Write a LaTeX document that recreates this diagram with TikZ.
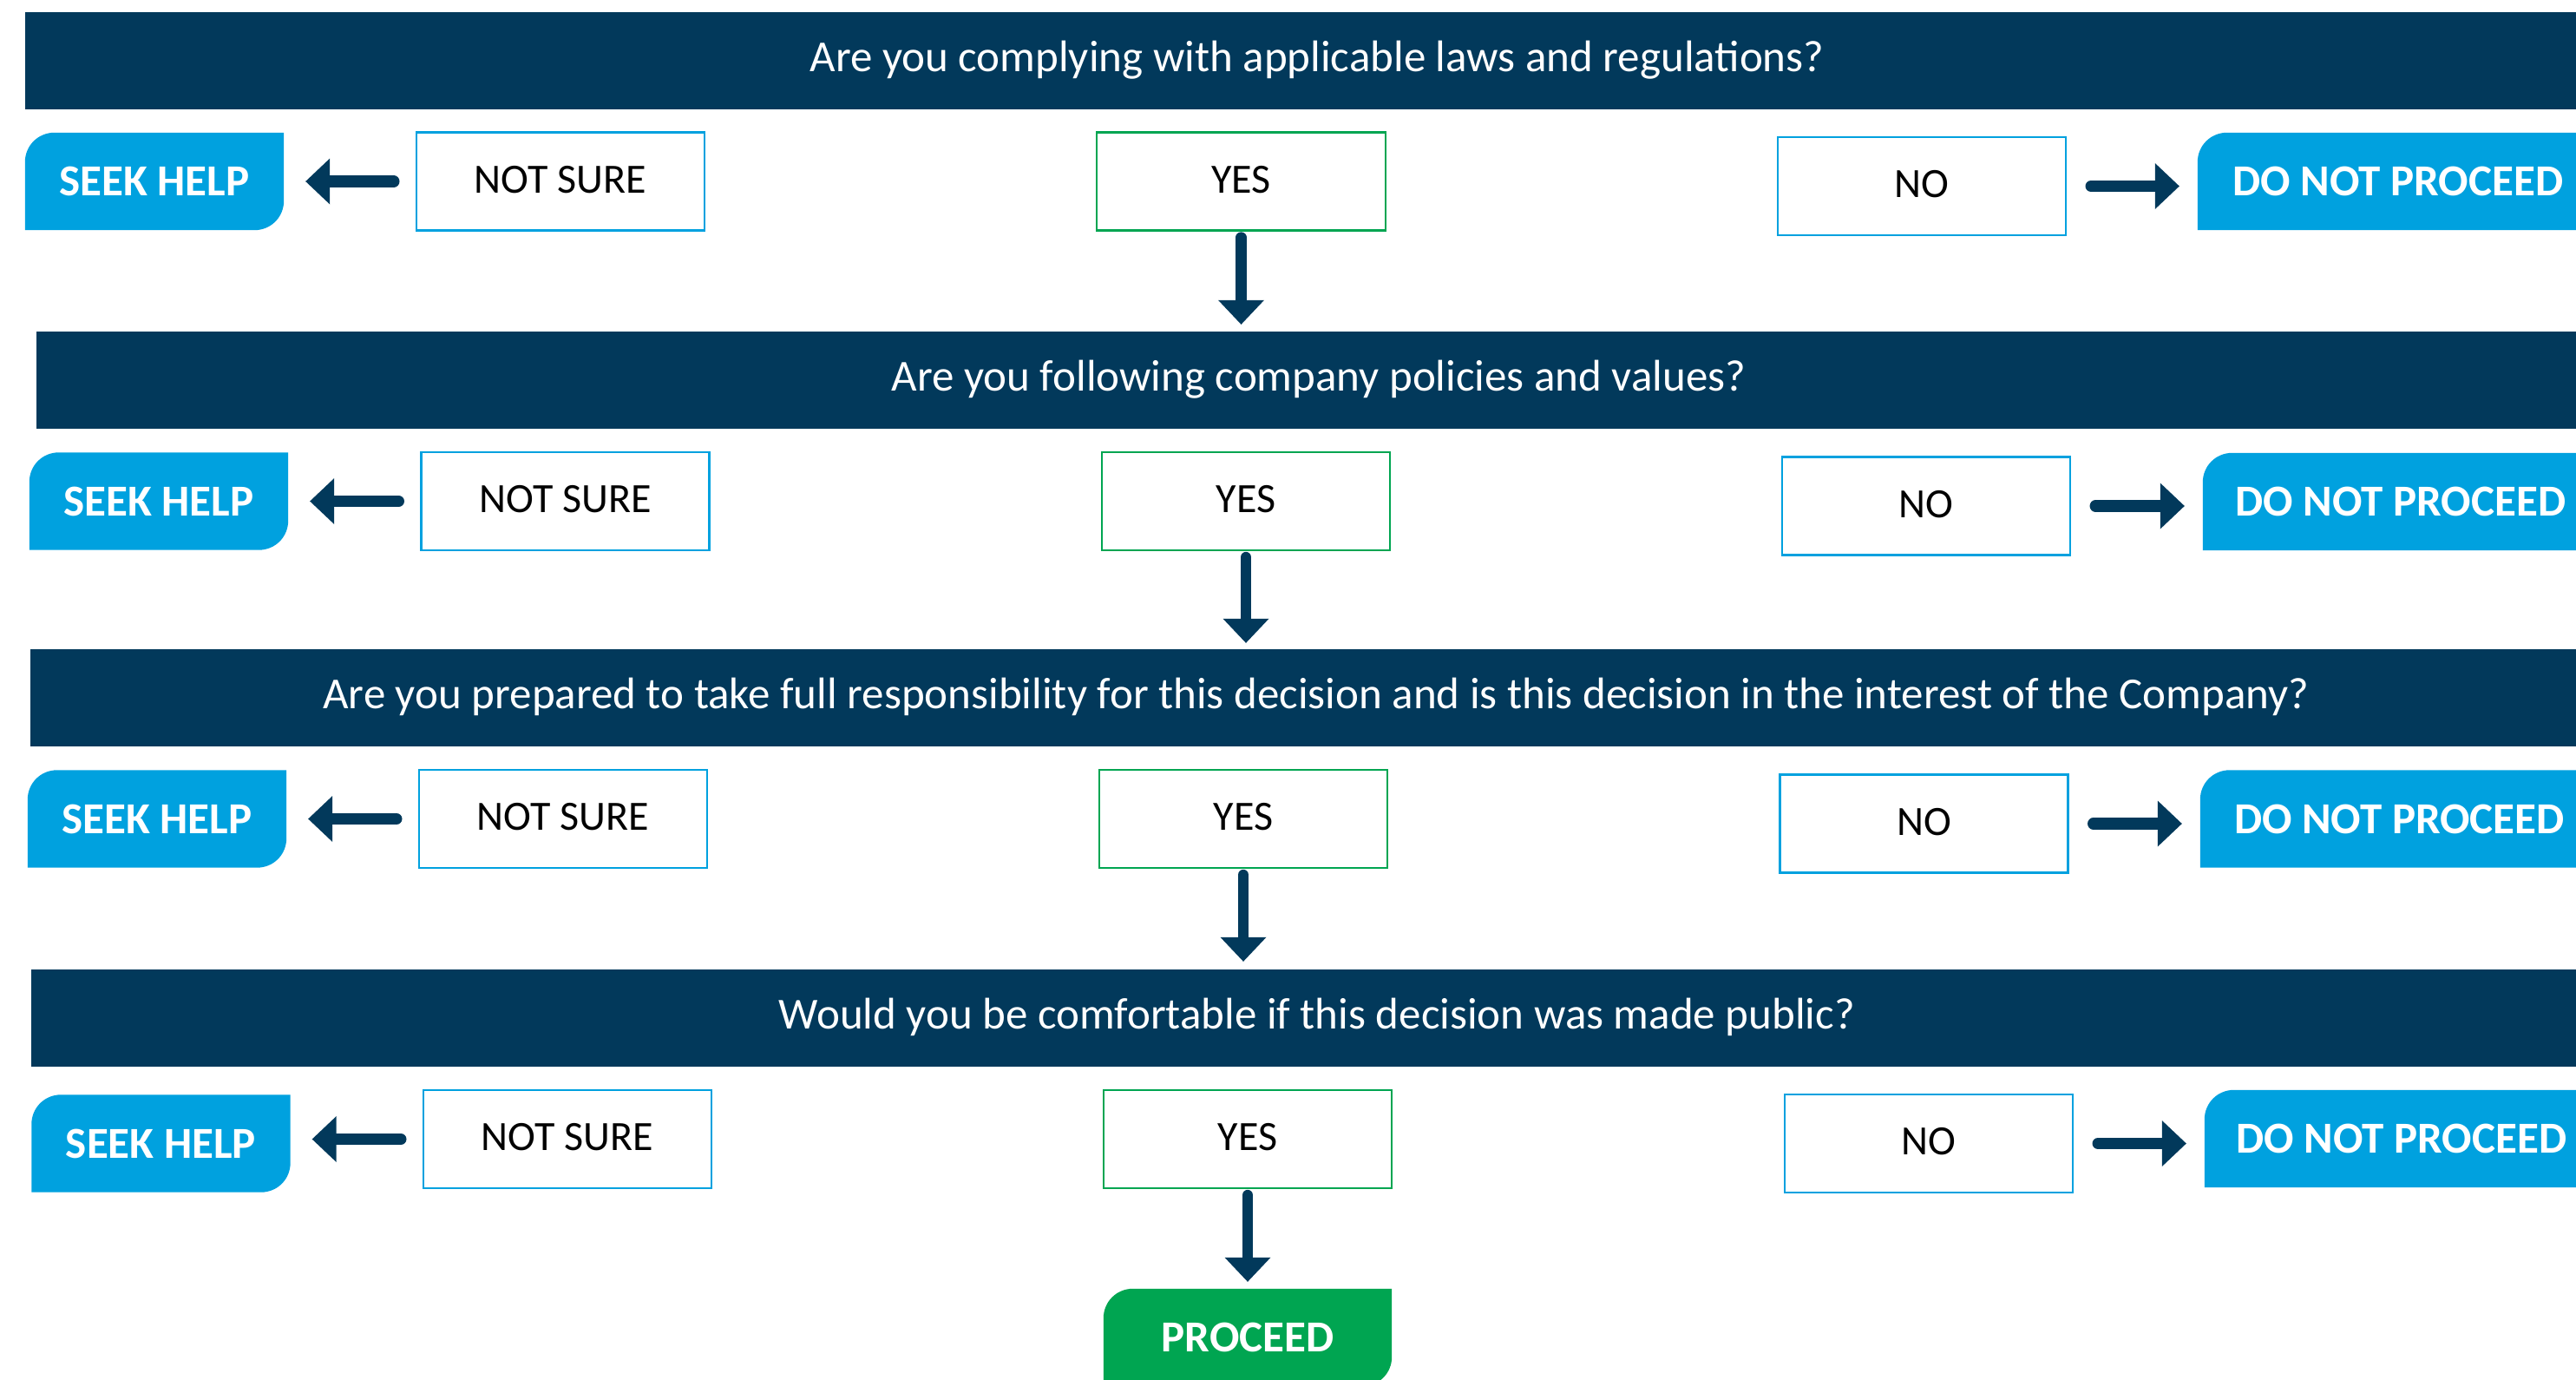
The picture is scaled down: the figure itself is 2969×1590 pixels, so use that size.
\documentclass[tikz,border=0pt]{standalone}
\usepackage{fontspec}
\setmainfont{Carlito}
\usetikzlibrary{arrows.meta,calc,backgrounds}
\definecolor{navy}{HTML}{02395B}
\definecolor{skyb}{HTML}{00A1DF}
\definecolor{grn}{HTML}{00A551}
\newcommand\tlbrshape[2]{%
 \fill[#2] ($(#1.north west)+(0,34)$) .. controls ($(#1.north west)+(0,15)$) and ($(#1.north west)+(15,0)$) .. ($(#1.north west)+(34,0)$) -- (#1.north east) -- ($(#1.south east)+(0,-34)$) .. controls ($(#1.south east)+(0,-15)$) and ($(#1.south east)+(-15,0)$) .. ($(#1.south east)+(-34,0)$) -- (#1.south west) -- cycle;}
\newcommand\tlshape[2]{%
 \fill[#2] ($(#1.north west)+(0,34)$) .. controls ($(#1.north west)+(0,15)$) and ($(#1.north west)+(15,0)$) .. ($(#1.north west)+(34,0)$) -- (#1.north east) -- (#1.south east) -- (#1.south west) -- cycle;}
\begin{document}
\begin{tikzpicture}[x=1pt,y=-1pt,
  qbar/.style={fill=navy, text=white, minimum height=112pt, inner sep=0pt,
    font=\fontsize{51}{60}\selectfont, text height=35pt, text depth=11pt},
  seekbox/.style={text=white, minimum width=298pt, minimum height=112pt, inner sep=0pt,
    font=\bfseries\fontsize{51}{60}\selectfont, text height=33pt, text depth=0pt},
  stopbox/.style={seekbox, minimum width=458pt},
  gobox/.style={seekbox, minimum width=332pt},
  optbox/.style={draw=skyb, line width=2.5pt, fill=white, minimum width=332pt, minimum height=113pt,
    inner sep=0pt, font=\fontsize{48}{56}\selectfont, text height=32pt, text depth=6pt},
  yesbox/.style={optbox, draw=grn, line width=2.2pt},
  flow/.style={draw=navy, line width=13.5pt, line cap=round,
    -{Triangle[length=28pt, width=53pt, line width=0pt]}},
  flowd/.style={flow, line width=12.5pt}
]
\useasboundingbox (0,0) rectangle (2969,1590);
\clip (0,0) rectangle (2969,1590);

% ---------- row 1
\node[qbar, minimum width=2978pt] (q1) at (1518,70) {Are you complying with applicable laws and regulations?};
\node[seekbox] (s1) at (178,209) {SEEK HELP};
\node[optbox] (n1) at (646,209) {NOT SURE};
\node[yesbox, minimum width=333pt] (y1) at (1430.5,209) {YES};
\node[optbox] (o1) at (2215,214.5) {NO};
\node[stopbox, minimum width=462pt] (d1) at (2764,209) {DO NOT PROCEED};

% ---------- row 2
\node[qbar, minimum width=2956pt] (q2) at (1520,438) {Are you following company policies and values?};
\node[seekbox] (s2) at (183,577.5) {SEEK HELP};
\node[optbox] (n2) at (651.5,577.5) {NOT SURE};
\node[yesbox] (y2) at (1436,577.5) {YES};
\node[optbox] (o2) at (2220,583) {NO};
\node[stopbox, minimum width=456pt] (d2) at (2767,578) {DO NOT PROCEED};

% ---------- row 3
\node[qbar, minimum width=2964pt] (q3) at (1517,804) {Are you prepared to take full responsibility for this decision and is this decision in the interest of the Company?};
\node[seekbox] (s3) at (181,943.5) {SEEK HELP};
\node[optbox] (n3) at (649,943.5) {NOT SURE};
\node[yesbox] (y3) at (1433,943.5) {YES};
\node[optbox] (o3) at (2217.5,949) {NO};
\node[stopbox, minimum width=459pt] (d3) at (2765.5,943.5) {DO NOT PROCEED};

% ---------- row 4
\node[qbar, minimum width=2964pt] (q4) at (1518,1173) {Would you be comfortable if this decision was made public?};
\node[seekbox] (s4) at (185.5,1317.5) {SEEK HELP};
\node[optbox] (n4) at (654,1312.5) {NOT SURE};
\node[yesbox] (y4) at (1438,1312.5) {YES};
\node[optbox] (o4) at (2223,1317.5) {NO};
\node[stopbox, minimum width=454pt] (d4) at (2768,1312) {DO NOT PROCEED};

\node[gobox] (p) at (1438,1541) {PROCEED};

% ---------- coloured button shapes
\begin{pgfonlayer}{background}
\tlbrshape{s1}{skyb}\tlbrshape{s2}{skyb}\tlbrshape{s3}{skyb}\tlbrshape{s4}{skyb}
\tlshape{d1}{skyb}\tlshape{d2}{skyb}\tlshape{d3}{skyb}\tlshape{d4}{skyb}
\tlbrshape{p}{grn}
\end{pgfonlayer}

% ---------- connectors
\foreach \r in {1,2,3,4}{
  \draw[flow, shorten <=25pt, shorten >=25pt] (n\r.west) -- (n\r.west -| s\r.east);
  \draw[flow, shorten <=28pt, shorten >=21pt] (o\r.east) -- (o\r.east -| d\r.west);
}
\draw[flowd, shorten <=7pt, shorten >=8pt] (y1.south) -- (y1.south |- q2.north);
\draw[flowd, shorten <=7pt, shorten >=7pt] (y2.south) -- (y2.south |- q3.north);
\draw[flowd, shorten <=7pt, shorten >=9pt] (y3.south) -- (y3.south |- q4.north);
\draw[flowd, shorten <=7pt, shorten >=8pt] (y4.south) -- (y4.south |- p.north);
\end{tikzpicture}
\end{document}
